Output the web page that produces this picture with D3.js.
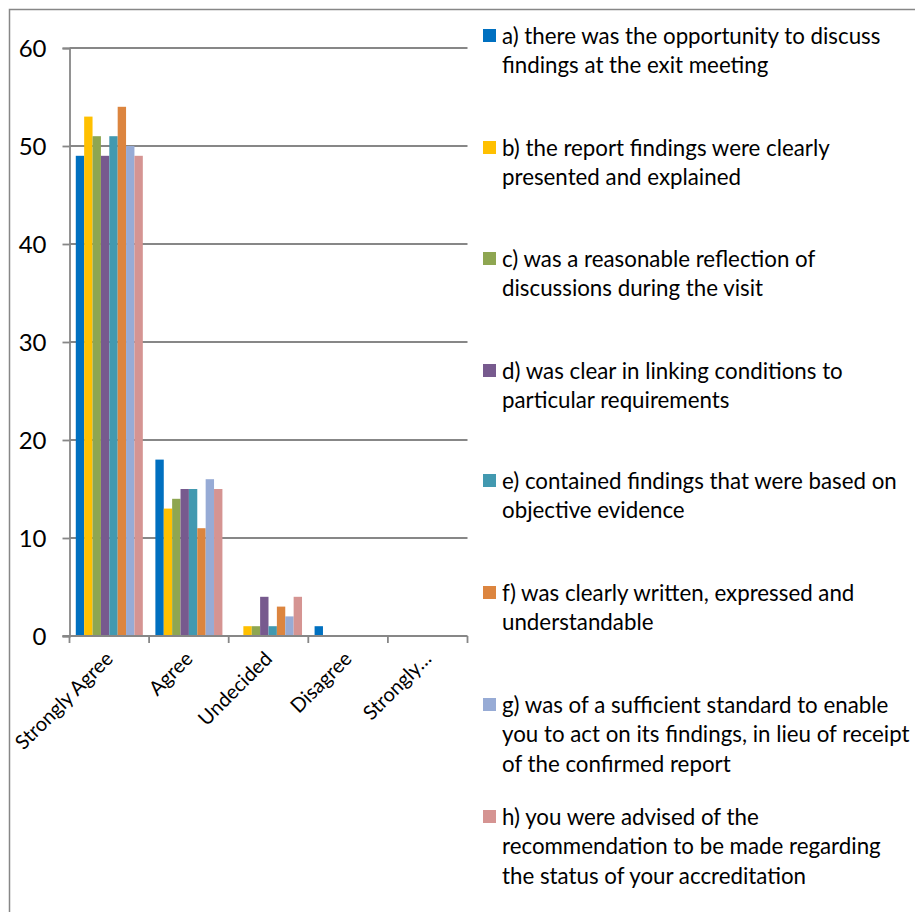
<!DOCTYPE html>
<html><head><meta charset="utf-8">
<script src="https://cdn.jsdelivr.net/npm/d3@7"></script>
<style>body{margin:0;background:#fff;} svg{display:block;}</style>
</head><body>
<script>
const categories = ["Strongly Agree","Agree","Undecided","Disagree","Strongly Disagree"];
const categoryLabels = ["Strongly Agree","Agree","Undecided","Disagree","Strongly…"];
const seriesNames = [
  "a) there was the opportunity to discuss findings at the exit meeting",
  "b) the report findings were clearly presented and explained",
  "c) was a reasonable reflection of discussions during the visit",
  "d) was clear in linking conditions to particular requirements",
  "e) contained findings that were based on objective evidence",
  "f) was clearly written, expressed and understandable",
  "g) was of a sufficient standard to enable you to act on its findings, in lieu of receipt of the confirmed report",
  "h) you were advised of the recommendation to be made regarding the status of your accreditation"
];
const legendLines = [
  ["a) there was the opportunity to discuss","findings at the exit meeting"],
  ["b) the report findings were clearly","presented and explained"],
  ["c) was a reasonable reflection of","discussions during the visit"],
  ["d) was clear in linking conditions to","particular requirements"],
  ["e) contained findings that were based on","objective evidence"],
  ["f) was clearly written, expressed and","understandable"],
  ["g) was of a sufficient standard to enable","you to act on its findings, in lieu of receipt","of the confirmed report"],
  ["h) you were advised of the","recommendation to be made regarding","the status of your accreditation"]
];
const seriesA = [49,18,0,1,0];
const seriesB = [53,13,1,0,0];
const seriesC = [51,14,1,0,0];
const seriesD = [49,15,4,0,0];
const seriesE = [51,15,1,0,0];
const seriesF = [54,11,3,0,0];
const seriesG = [50,16,2,0,0];
const seriesH = [49,15,4,0,0];
const seriesValues = [seriesA,seriesB,seriesC,seriesD,seriesE,seriesF,seriesG,seriesH];
const colors = ["#0070C0","#FFC000","#8EA651","#775A8E","#4299B0","#DC853F","#97ABD5","#D59492"];
const yTicks = [0,10,20,30,40,50,60];

const W = 915, H = 912;
const svg = d3.select("body").append("svg").attr("width",W).attr("height",H);
const font = "Lato, 'Open Sans', sans-serif";
const axisCol = "#878787";

// chart frame
svg.append("rect").attr("x",9.5).attr("y",9.5).attr("width",W+20).attr("height",H+20)
  .attr("fill","#fff").attr("stroke",axisCol).attr("stroke-width",1.5);

const plot = {left:69.5, right:467.5, top:48, bottom:636};
const y = d3.scaleLinear().domain([0,60]).range([plot.bottom, plot.top]);
const x0 = d3.scaleBand().domain(categories).range([plot.left, plot.right]).paddingInner(0).paddingOuter(0);
const bw = x0.bandwidth();
const barW = bw / 9.5;
const x1 = d3.scaleBand().domain(d3.range(8)).range([0.75*barW, bw-0.75*barW]).padding(0);

// gridlines
svg.append("g").selectAll("line").data(yTicks.filter(t=>t>0)).join("line")
  .attr("x1",plot.left).attr("x2",plot.right)
  .attr("y1",d=>y(d)).attr("y2",d=>y(d))
  .attr("stroke",axisCol).attr("stroke-width",1.8);

// y axis
const yAxis = svg.append("g").attr("transform",`translate(${plot.left},0)`)
  .call(d3.axisLeft(y).tickValues(yTicks).tickSize(7).tickPadding(16));
yAxis.select(".domain").attr("stroke",axisCol).attr("stroke-width",1.8);
yAxis.selectAll(".tick line").attr("stroke",axisCol).attr("stroke-width",1.8);
yAxis.selectAll("text").attr("font-family",font).attr("font-size",24).attr("fill","#000").attr("dy","0.34em");

// bars
const groups = svg.append("g").selectAll("g").data(categories).join("g")
  .attr("transform",d=>`translate(${x0(d)},0)`);
groups.selectAll("rect").data((c,ci)=>seriesValues.map((s,si)=>({si, v:s[ci]}))).join("rect")
  .attr("x",d=>x1(d.si)).attr("width",x1.bandwidth())
  .attr("y",d=>y(d.v)).attr("height",d=>plot.bottom-y(d.v))
  .attr("fill",d=>colors[d.si]);

// x axis
const xAxis = svg.append("g").attr("transform",`translate(0,${plot.bottom})`);
xAxis.append("line").attr("x1",plot.left-7).attr("x2",plot.right).attr("stroke",axisCol).attr("stroke-width",1.8);
const tickXs = categories.map(c=>x0(c)).concat([plot.right]);
xAxis.selectAll("line.tk").data(tickXs).join("line").attr("class","tk")
  .attr("x1",d=>d).attr("x2",d=>d).attr("y1",0).attr("y2",7)
  .attr("stroke",axisCol).attr("stroke-width",1.8);
xAxis.selectAll("text").data(categories).join("text")
  .attr("transform",(d)=>`translate(${x0(d)+bw/2+5},${24}) rotate(-45)`)
  .attr("text-anchor","end")
  .attr("font-family",font).attr("font-size",20).attr("fill","#000")
  .text((d,i)=>categoryLabels[i]);

// legend
const legTop = [36,148,259,371,481,593,705,817];
const lg = svg.append("g");
legendLines.forEach((lines,i)=>{
  lg.append("rect").attr("x",483).attr("y",legTop[i]-7).attr("width",13).attr("height",13).attr("fill",colors[i]);
  const t = lg.append("text").attr("font-family",font).attr("font-size",22.3).attr("fill","#000");
  lines.forEach((ln,j)=>{
    t.append("tspan").attr("x",502).attr("y",legTop[i]+8+j*29.4).text(ln);
  });
});
</script>
</body></html>
